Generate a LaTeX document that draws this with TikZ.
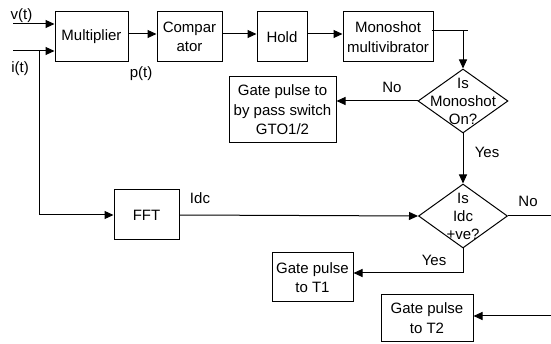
\documentclass[tikz,border=0pt]{standalone}
\usepackage{fontspec}
\setmainfont{Liberation Sans}
\usetikzlibrary{arrows.meta,shapes.geometric}
\begin{document}
\begin{tikzpicture}[x=1pt,y=-1pt,
  every node/.style={font=\fontsize{15}{19.5}\selectfont},
  blk/.style={draw,line width=1pt,rectangle,inner sep=0pt,align=center},
  dia/.style={draw,line width=1pt,diamond,inner sep=0pt,minimum width=90pt,minimum height=64pt},
  lbl/.style={inner sep=0pt,align=center},
  ln/.style={line width=1pt},
  arr/.style={line width=1pt,-{Triangle[length=9pt,width=8pt]}}]
\useasboundingbox (0,0) rectangle (551,344);
% blocks
\node[blk,minimum width=73pt,minimum height=50pt] (mult) at (91.5,37) {Multiplier};
\node[blk,minimum width=65pt,minimum height=50pt] (comp) at (189.5,37) {Compar\\ator};
\node[blk,minimum width=50pt,minimum height=50pt] (hold) at (282,37) {Hold};
\node[blk,minimum width=90pt,minimum height=50pt] (mono) at (388,37) {Monoshot\\multivibrator};
\node[blk,minimum width=107pt,minimum height=66pt] (gto) at (282.5,110) {Gate pulse to\\by pass switch\\GTO1/2};
\node[blk,minimum width=65pt,minimum height=50pt] (fft) at (146.5,215) {FFT};
\node[blk,minimum width=81pt,minimum height=49pt] (t1) at (312.5,277.5) {Gate pulse\\to T1};
\node[blk,minimum width=92pt,minimum height=46pt] (t2) at (427,318) {Gate pulse\\to T2};
% decisions
\node[dia] (d1) at (463,101) {};
\node[lbl] (d1t) at (463,101) {Is\\[-1.5pt]Monoshot\\[-1.5pt]On?};
\node[dia,minimum width=89pt] (d2) at (463,216) {};
\node[lbl] (d2t) at (463,216) {Is\\[-1.5pt]Idc\\[-1.5pt]+ve?};
% coordinates
\coordinate (vin) at (13,24);
\coordinate (iin) at (13,51);
\coordinate (br) at (39,51);
\coordinate (mj) at (463,31);
\coordinate (stub) at (468,31);
\coordinate (noend) at (551,216);
\coordinate (t2in) at (551,316);
\coordinate (yesy) at (463,273);
% labels
\node[lbl] (vl) at (21.5,16) {v(t)};
\node[lbl] (il) at (20,69) {i(t)};
\node[lbl] (pl) at (141,74) {p(t)};
\node[lbl] (idcl) at (200,198) {Idc};
\node[lbl] (no1) at (392,87) {No};
\node[lbl] (yes1) at (487,152) {Yes};
\node[lbl] (no2) at (528,201) {No};
\node[lbl] (yes2) at (434,260) {Yes};
% connectors
\draw[arr] (vin) -- (mult.west |- vin);
\draw[arr] (iin) -- (mult.west |- iin);
\draw[arr] (br) |- (fft.west);
\draw[arr] ([yshift=3pt]mult.east) -- ([yshift=3pt]comp.west);
\draw[arr] ([yshift=3pt]comp.east) -- ([yshift=3pt]hold.west);
\draw[arr] ([yshift=3pt]hold.east) -- ([yshift=3pt]mono.west);
\draw[ln] ([xshift=-2pt]mono.east |- mj) -- (stub);
\draw[arr] (mj) -- (d1.north);
\draw[arr] (d1.west) -- (gto.east |- d1.west);
\draw[arr] (d1.south) -- (d2.north);
\draw[arr] (fft.east) -- (d2.west);
\draw[ln] (d2.east) -- (noend);
\draw[arr] (d2.south) |- (t1.east |- yesy);
\draw[arr] (t2in) -- (t2.east |- t2in);
\end{tikzpicture}
\end{document}
